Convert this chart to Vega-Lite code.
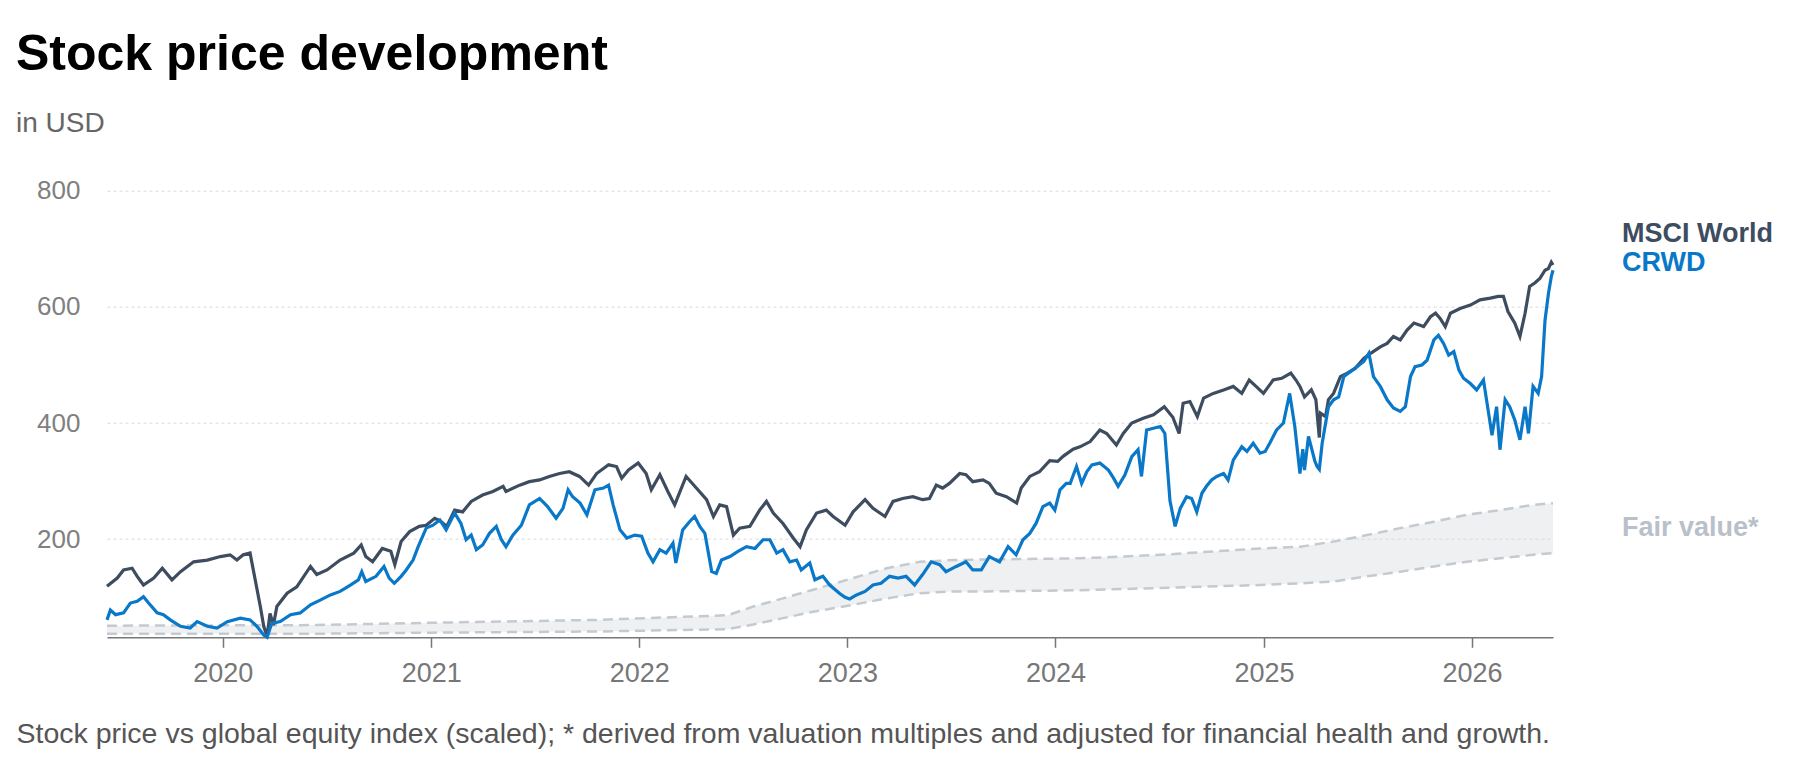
{
"$schema":"https://vega.github.io/schema/vega-lite/v6.json",
"width":1446,"height":446.6,
"autosize":{"type":"none"},
"padding":{"left":107,"top":190.7,"right":247,"bottom":130.7},
"background":"#ffffff",
"config":{"view":{"stroke":null},"font":"Liberation Sans",
 "axisX":{"domainColor":"#777777","domainWidth":1.5,"tickColor":"#777777","tickSize":10,"tickWidth":1.5,"labelFontSize":27,"labelColor":"#777777","labelPadding":13,"grid":false,"format":"%Y","tickCount":"year","labelOverlap":false,"titleFontSize":28.5,"titleFontWeight":"normal","titleColor":"#555555","titleAnchor":"start","titleAlign":"left","titleBaseline":"alphabetic","titleX":-91,"titleY":105},
 "axisY":{"domain":false,"ticks":false,"tickSize":0,"labelPadding":27,"labelFontSize":26,"labelColor":"#808080","grid":true,"gridColor":"#d9d9d9","gridDash":[3,3],"gridWidth":1}},
"title":{"text":"Stock price development","subtitle":"in USD","anchor":"start","frame":"group","dx":-91,"offset":40,"font":"Liberation Sans","fontSize":50,"fontWeight":"bold","color":"#000000","subtitleFont":"Liberation Sans","subtitleFontSize":28,"subtitleColor":"#666666","subtitlePadding":30},
"datasets":{
"msci":[
{"date":"2019-06-12","value":119},{"date":"2019-06-30","value":133},{"date":"2019-07-11","value":147},{"date":"2019-07-26","value":150},{"date":"2019-08-04","value":136},{"date":"2019-08-15","value":121},{"date":"2019-09-02","value":133},{"date":"2019-09-17","value":150},{"date":"2019-10-04","value":130},{"date":"2019-10-19","value":144},{"date":"2019-11-11","value":161},{"date":"2019-12-05","value":164},{"date":"2019-12-28","value":170},{"date":"2020-01-14","value":173},{"date":"2020-01-26","value":164},{"date":"2020-02-06","value":173},{"date":"2020-02-18","value":176},{"date":"2020-02-27","value":130},{"date":"2020-03-07","value":84},{"date":"2020-03-13","value":50},{"date":"2020-03-19","value":33},{"date":"2020-03-24","value":72},{"date":"2020-03-30","value":52},{"date":"2020-04-05","value":84},{"date":"2020-04-23","value":107},{"date":"2020-05-10","value":118},{"date":"2020-06-03","value":153},{"date":"2020-06-14","value":139},{"date":"2020-07-02","value":147},{"date":"2020-07-25","value":164},{"date":"2020-08-18","value":176},{"date":"2020-08-31","value":190},{"date":"2020-09-08","value":170},{"date":"2020-09-20","value":161},{"date":"2020-10-07","value":184},{"date":"2020-10-22","value":179},{"date":"2020-10-29","value":156},{"date":"2020-11-09","value":196},{"date":"2020-11-24","value":213},{"date":"2020-12-11","value":222},{"date":"2020-12-23","value":224},{"date":"2021-01-07","value":236},{"date":"2021-01-16","value":232},{"date":"2021-01-28","value":222},{"date":"2021-02-11","value":250},{"date":"2021-02-25","value":247},{"date":"2021-03-12","value":265},{"date":"2021-04-01","value":276},{"date":"2021-04-19","value":282},{"date":"2021-05-07","value":291},{"date":"2021-05-12","value":282},{"date":"2021-06-05","value":293},{"date":"2021-06-22","value":299},{"date":"2021-07-10","value":302},{"date":"2021-07-27","value":308},{"date":"2021-08-14","value":313},{"date":"2021-08-31","value":316},{"date":"2021-09-18","value":308},{"date":"2021-10-04","value":293},{"date":"2021-10-18","value":313},{"date":"2021-11-08","value":328},{"date":"2021-11-22","value":325},{"date":"2021-12-01","value":305},{"date":"2021-12-13","value":319},{"date":"2021-12-30","value":331},{"date":"2022-01-13","value":313},{"date":"2022-01-22","value":285},{"date":"2022-02-06","value":311},{"date":"2022-02-20","value":282},{"date":"2022-03-04","value":259},{"date":"2022-03-24","value":308},{"date":"2022-04-11","value":288},{"date":"2022-04-29","value":268},{"date":"2022-05-11","value":239},{"date":"2022-05-22","value":259},{"date":"2022-06-03","value":256},{"date":"2022-06-15","value":207},{"date":"2022-06-26","value":219},{"date":"2022-07-14","value":222},{"date":"2022-07-31","value":250},{"date":"2022-08-12","value":265},{"date":"2022-08-24","value":245},{"date":"2022-09-10","value":227},{"date":"2022-09-28","value":202},{"date":"2022-10-10","value":187},{"date":"2022-10-21","value":216},{"date":"2022-11-08","value":245},{"date":"2022-11-25","value":250},{"date":"2022-12-07","value":239},{"date":"2022-12-28","value":224},{"date":"2023-01-11","value":247},{"date":"2023-02-01","value":268},{"date":"2023-02-15","value":253},{"date":"2023-03-08","value":239},{"date":"2023-03-22","value":265},{"date":"2023-04-08","value":270},{"date":"2023-04-26","value":273},{"date":"2023-05-13","value":268},{"date":"2023-05-25","value":270},{"date":"2023-06-06","value":293},{"date":"2023-06-17","value":288},{"date":"2023-06-29","value":296},{"date":"2023-07-17","value":313},{"date":"2023-07-28","value":311},{"date":"2023-08-09","value":299},{"date":"2023-08-27","value":302},{"date":"2023-09-07","value":296},{"date":"2023-09-19","value":279},{"date":"2023-10-07","value":273},{"date":"2023-10-25","value":262},{"date":"2023-11-02","value":288},{"date":"2023-11-17","value":308},{"date":"2023-12-04","value":316},{"date":"2023-12-22","value":335},{"date":"2024-01-05","value":334},{"date":"2024-01-15","value":343},{"date":"2024-02-01","value":355},{"date":"2024-02-13","value":359},{"date":"2024-03-02","value":368},{"date":"2024-03-19","value":388},{"date":"2024-03-31","value":382},{"date":"2024-04-17","value":362},{"date":"2024-04-29","value":382},{"date":"2024-05-14","value":400},{"date":"2024-06-03","value":408},{"date":"2024-06-21","value":414},{"date":"2024-07-10","value":428},{"date":"2024-07-25","value":410},{"date":"2024-08-05","value":382},{"date":"2024-08-12","value":434},{"date":"2024-08-24","value":437},{"date":"2024-09-06","value":411},{"date":"2024-09-17","value":443},{"date":"2024-10-04","value":451},{"date":"2024-10-22","value":457},{"date":"2024-11-08","value":463},{"date":"2024-11-23","value":451},{"date":"2024-12-06","value":474},{"date":"2024-12-18","value":463},{"date":"2024-12-31","value":451},{"date":"2025-01-17","value":474},{"date":"2025-02-01","value":477},{"date":"2025-02-17","value":486},{"date":"2025-02-26","value":474},{"date":"2025-03-05","value":463},{"date":"2025-03-13","value":445},{"date":"2025-03-25","value":457},{"date":"2025-04-02","value":440},{"date":"2025-04-08","value":375},{"date":"2025-04-10","value":417},{"date":"2025-04-19","value":411},{"date":"2025-04-24","value":440},{"date":"2025-05-03","value":451},{"date":"2025-05-15","value":480},{"date":"2025-05-27","value":486},{"date":"2025-06-10","value":494},{"date":"2025-06-25","value":511},{"date":"2025-07-07","value":520},{"date":"2025-07-24","value":531},{"date":"2025-08-05","value":537},{"date":"2025-08-16","value":549},{"date":"2025-08-28","value":543},{"date":"2025-09-09","value":560},{"date":"2025-09-21","value":572},{"date":"2025-10-08","value":566},{"date":"2025-10-20","value":583},{"date":"2025-10-29","value":589},{"date":"2025-11-06","value":580},{"date":"2025-11-15","value":566},{"date":"2025-11-24","value":589},{"date":"2025-12-11","value":597},{"date":"2025-12-29","value":603},{"date":"2026-01-15","value":612},{"date":"2026-02-02","value":615},{"date":"2026-02-16","value":618},{"date":"2026-02-25","value":618},{"date":"2026-03-05","value":592},{"date":"2026-03-17","value":572},{"date":"2026-03-26","value":549},{"date":"2026-04-04","value":589},{"date":"2026-04-12","value":635},{"date":"2026-04-21","value":641},{"date":"2026-04-30","value":649},{"date":"2026-05-09","value":663},{"date":"2026-05-15","value":666},{"date":"2026-05-20","value":677},{"date":"2026-05-23","value":672}
],
"crwd":[
{"date":"2019-06-12","value":61},{"date":"2019-06-18","value":78},{"date":"2019-06-27","value":70},{"date":"2019-07-11","value":73},{"date":"2019-07-23","value":90},{"date":"2019-08-04","value":93},{"date":"2019-08-15","value":101},{"date":"2019-08-24","value":90},{"date":"2019-09-08","value":73},{"date":"2019-09-19","value":70},{"date":"2019-10-01","value":61},{"date":"2019-10-19","value":50},{"date":"2019-11-05","value":47},{"date":"2019-11-17","value":58},{"date":"2019-12-05","value":50},{"date":"2019-12-22","value":47},{"date":"2020-01-09","value":58},{"date":"2020-02-01","value":64},{"date":"2020-02-18","value":61},{"date":"2020-03-01","value":50},{"date":"2020-03-13","value":35},{"date":"2020-03-19","value":31},{"date":"2020-03-27","value":55},{"date":"2020-04-11","value":58},{"date":"2020-04-29","value":70},{"date":"2020-05-16","value":73},{"date":"2020-06-03","value":87},{"date":"2020-06-20","value":95},{"date":"2020-07-08","value":104},{"date":"2020-07-25","value":110},{"date":"2020-08-12","value":121},{"date":"2020-08-26","value":130},{"date":"2020-09-01","value":144},{"date":"2020-09-08","value":127},{"date":"2020-09-26","value":136},{"date":"2020-10-10","value":153},{"date":"2020-10-19","value":133},{"date":"2020-10-28","value":124},{"date":"2020-11-09","value":136},{"date":"2020-11-18","value":147},{"date":"2020-11-30","value":164},{"date":"2020-12-09","value":187},{"date":"2020-12-23","value":219},{"date":"2021-01-04","value":224},{"date":"2021-01-16","value":233},{"date":"2021-01-27","value":216},{"date":"2021-02-11","value":245},{"date":"2021-02-22","value":227},{"date":"2021-03-03","value":199},{"date":"2021-03-12","value":207},{"date":"2021-03-21","value":182},{"date":"2021-04-01","value":190},{"date":"2021-04-13","value":210},{"date":"2021-04-25","value":222},{"date":"2021-05-04","value":199},{"date":"2021-05-12","value":187},{"date":"2021-05-24","value":207},{"date":"2021-06-08","value":224},{"date":"2021-06-22","value":259},{"date":"2021-07-10","value":270},{"date":"2021-07-24","value":256},{"date":"2021-08-08","value":236},{"date":"2021-08-20","value":253},{"date":"2021-08-29","value":285},{"date":"2021-09-06","value":273},{"date":"2021-09-19","value":262},{"date":"2021-10-01","value":242},{"date":"2021-10-15","value":285},{"date":"2021-10-30","value":288},{"date":"2021-11-08","value":293},{"date":"2021-11-16","value":259},{"date":"2021-11-28","value":216},{"date":"2021-12-10","value":202},{"date":"2021-12-24","value":207},{"date":"2022-01-05","value":205},{"date":"2022-01-16","value":176},{"date":"2022-01-25","value":161},{"date":"2022-02-06","value":182},{"date":"2022-02-17","value":176},{"date":"2022-03-01","value":193},{"date":"2022-03-06","value":159},{"date":"2022-03-18","value":216},{"date":"2022-03-30","value":230},{"date":"2022-04-08","value":239},{"date":"2022-04-17","value":222},{"date":"2022-04-26","value":210},{"date":"2022-05-08","value":144},{"date":"2022-05-16","value":141},{"date":"2022-05-25","value":164},{"date":"2022-06-09","value":170},{"date":"2022-06-23","value":179},{"date":"2022-07-08","value":187},{"date":"2022-07-23","value":184},{"date":"2022-08-06","value":199},{"date":"2022-08-18","value":199},{"date":"2022-08-30","value":176},{"date":"2022-09-10","value":182},{"date":"2022-09-22","value":161},{"date":"2022-10-04","value":164},{"date":"2022-10-12","value":147},{"date":"2022-10-27","value":159},{"date":"2022-11-05","value":130},{"date":"2022-11-19","value":136},{"date":"2022-12-01","value":121},{"date":"2022-12-19","value":106},{"date":"2022-12-28","value":100},{"date":"2023-01-05","value":97},{"date":"2023-01-17","value":104},{"date":"2023-02-01","value":110},{"date":"2023-02-15","value":121},{"date":"2023-03-01","value":124},{"date":"2023-03-16","value":136},{"date":"2023-03-31","value":133},{"date":"2023-04-14","value":136},{"date":"2023-04-29","value":121},{"date":"2023-05-13","value":139},{"date":"2023-05-28","value":161},{"date":"2023-06-12","value":156},{"date":"2023-06-23","value":144},{"date":"2023-07-11","value":153},{"date":"2023-07-28","value":161},{"date":"2023-08-09","value":147},{"date":"2023-08-24","value":147},{"date":"2023-09-07","value":170},{"date":"2023-09-25","value":161},{"date":"2023-10-10","value":187},{"date":"2023-10-24","value":173},{"date":"2023-11-05","value":199},{"date":"2023-11-17","value":210},{"date":"2023-11-28","value":227},{"date":"2023-12-10","value":256},{"date":"2023-12-22","value":262},{"date":"2023-12-31","value":250},{"date":"2024-01-09","value":285},{"date":"2024-01-20","value":296},{"date":"2024-01-27","value":296},{"date":"2024-02-07","value":325},{"date":"2024-02-16","value":296},{"date":"2024-02-25","value":316},{"date":"2024-03-05","value":328},{"date":"2024-03-19","value":331},{"date":"2024-04-03","value":319},{"date":"2024-04-12","value":305},{"date":"2024-04-20","value":291},{"date":"2024-05-02","value":311},{"date":"2024-05-14","value":342},{"date":"2024-05-25","value":354},{"date":"2024-05-31","value":308},{"date":"2024-06-09","value":388},{"date":"2024-06-21","value":391},{"date":"2024-07-03","value":394},{"date":"2024-07-11","value":382},{"date":"2024-07-20","value":266},{"date":"2024-07-29","value":222},{"date":"2024-08-07","value":253},{"date":"2024-08-18","value":273},{"date":"2024-08-27","value":270},{"date":"2024-09-05","value":247},{"date":"2024-09-14","value":279},{"date":"2024-09-22","value":291},{"date":"2024-10-01","value":302},{"date":"2024-10-10","value":308},{"date":"2024-10-22","value":313},{"date":"2024-10-30","value":302},{"date":"2024-11-08","value":336},{"date":"2024-11-23","value":359},{"date":"2024-12-02","value":351},{"date":"2024-12-13","value":365},{"date":"2024-12-25","value":348},{"date":"2025-01-03","value":351},{"date":"2025-01-11","value":365},{"date":"2025-01-23","value":388},{"date":"2025-02-04","value":400},{"date":"2025-02-15","value":451},{"date":"2025-02-24","value":394},{"date":"2025-03-05","value":313},{"date":"2025-03-10","value":355},{"date":"2025-03-13","value":319},{"date":"2025-03-20","value":377},{"date":"2025-03-31","value":335},{"date":"2025-04-04","value":325},{"date":"2025-04-08","value":320},{"date":"2025-04-13","value":365},{"date":"2025-04-24","value":428},{"date":"2025-05-03","value":440},{"date":"2025-05-12","value":445},{"date":"2025-05-21","value":480},{"date":"2025-06-01","value":488},{"date":"2025-06-13","value":497},{"date":"2025-06-25","value":506},{"date":"2025-07-04","value":520},{"date":"2025-07-12","value":480},{"date":"2025-07-24","value":463},{"date":"2025-08-05","value":440},{"date":"2025-08-16","value":426},{"date":"2025-08-28","value":420},{"date":"2025-09-06","value":428},{"date":"2025-09-15","value":480},{"date":"2025-09-23","value":497},{"date":"2025-10-05","value":500},{"date":"2025-10-14","value":508},{"date":"2025-10-26","value":543},{"date":"2025-11-03","value":551},{"date":"2025-11-12","value":537},{"date":"2025-11-21","value":517},{"date":"2025-11-30","value":523},{"date":"2025-12-09","value":491},{"date":"2025-12-17","value":477},{"date":"2025-12-29","value":468},{"date":"2026-01-09","value":457},{"date":"2026-01-21","value":474},{"date":"2026-01-30","value":417},{"date":"2026-02-05","value":379},{"date":"2026-02-13","value":428},{"date":"2026-02-19","value":354},{"date":"2026-02-28","value":440},{"date":"2026-03-08","value":428},{"date":"2026-03-17","value":405},{"date":"2026-03-26","value":371},{"date":"2026-04-04","value":428},{"date":"2026-04-10","value":382},{"date":"2026-04-18","value":463},{"date":"2026-04-27","value":451},{"date":"2026-05-03","value":480},{"date":"2026-05-09","value":577},{"date":"2026-05-15","value":623},{"date":"2026-05-20","value":652},{"date":"2026-05-23","value":663}
],
"fair":[
{"date":"2019-06-12","low":37,"high":51},{"date":"2020-06-01","low":37,"high":52},{"date":"2021-01-01","low":39,"high":56},{"date":"2021-10-20","low":41,"high":61},{"date":"2022-06-05","low":45,"high":69},{"date":"2022-07-20","low":53,"high":84},{"date":"2022-09-10","low":64,"high":98},{"date":"2022-11-02","low":75,"high":113},{"date":"2023-01-11","low":87,"high":133},{"date":"2023-03-11","low":98,"high":150},{"date":"2023-05-08","low":107,"high":161},{"date":"2023-07-06","low":110,"high":164},{"date":"2023-09-02","low":110,"high":165},{"date":"2024-02-13","low":112,"high":167},{"date":"2024-07-03","low":116,"high":173},{"date":"2024-12-25","low":121,"high":184},{"date":"2025-03-06","low":124,"high":187},{"date":"2025-05-03","low":127,"high":196},{"date":"2025-07-01","low":136,"high":207},{"date":"2025-08-28","low":144,"high":219},{"date":"2025-10-26","low":153,"high":230},{"date":"2025-12-23","low":161,"high":242},{"date":"2026-02-19","low":167,"high":250},{"date":"2026-04-18","low":173,"high":259},{"date":"2026-05-23","low":176,"high":262}
],
"ends":[
{"label":"MSCI World","date":"2026-05-23","value":672},{"label":"CRWD","date":"2026-05-23","value":663},{"label":"Fair value*","date":"2026-05-23","value":219}
]
},
"encoding":{
 "x":{"field":"date","type":"temporal","title":"Stock price vs global equity index (scaled); * derived from valuation multiples and adjusted for financial health and growth.","scale":{"domain":[{"year":2019,"month":6,"date":12,"utc":true},{"year":2026,"month":5,"date":23,"utc":true}]}},
 "y":{"field":"value","type":"quantitative","title":null,"scale":{"domain":[31,800],"nice":false,"zero":false},"axis":{"values":[200,400,600,800]}}
},
"layer":[
 {"data":{"name":"fair"},"mark":{"type":"area","color":"#d5d9df","opacity":0.4},
  "encoding":{"y":{"field":"low","type":"quantitative","title":null,"scale":{"domain":[31,800],"nice":false,"zero":false},"axis":{"values":[200,400,600,800]}},"y2":{"field":"high"}}},
 {"data":{"name":"fair"},"mark":{"type":"line","color":"#c5c9d0","strokeWidth":2.5,"strokeDash":[10,6]},
  "encoding":{"y":{"field":"low","type":"quantitative","title":null,"scale":{"domain":[31,800],"nice":false,"zero":false},"axis":{"values":[200,400,600,800]}}}},
 {"data":{"name":"fair"},"mark":{"type":"line","color":"#c5c9d0","strokeWidth":2.5,"strokeDash":[10,6]},
  "encoding":{"y":{"field":"high","type":"quantitative","title":null,"scale":{"domain":[31,800],"nice":false,"zero":false},"axis":{"values":[200,400,600,800]}}}},
 {"data":{"name":"msci"},"mark":{"type":"line","color":"#3e4c60","strokeWidth":3.2}},
 {"data":{"name":"crwd"},"mark":{"type":"line","color":"#0a78c8","strokeWidth":3.2}},
 {"data":{"name":"ends"},"transform":[{"filter":"datum.label == 'MSCI World'"}],"mark":{"type":"text","align":"left","baseline":"middle","dx":69,"dy":-31,"fontSize":27,"fontWeight":"bold","color":"#3e4c60"},"encoding":{"text":{"field":"label"}}},
 {"data":{"name":"ends"},"transform":[{"filter":"datum.label == 'CRWD'"}],"mark":{"type":"text","align":"left","baseline":"middle","dx":69,"dy":-7,"fontSize":27,"fontWeight":"bold","color":"#0a78c8"},"encoding":{"text":{"field":"label"}}},
 {"data":{"name":"ends"},"transform":[{"filter":"datum.label == 'Fair value*'"}],"mark":{"type":"text","align":"left","baseline":"middle","dx":69,"dy":0,"fontSize":27,"fontWeight":"bold","color":"#b9c0ca"},"encoding":{"text":{"field":"label"}}}
]
}
